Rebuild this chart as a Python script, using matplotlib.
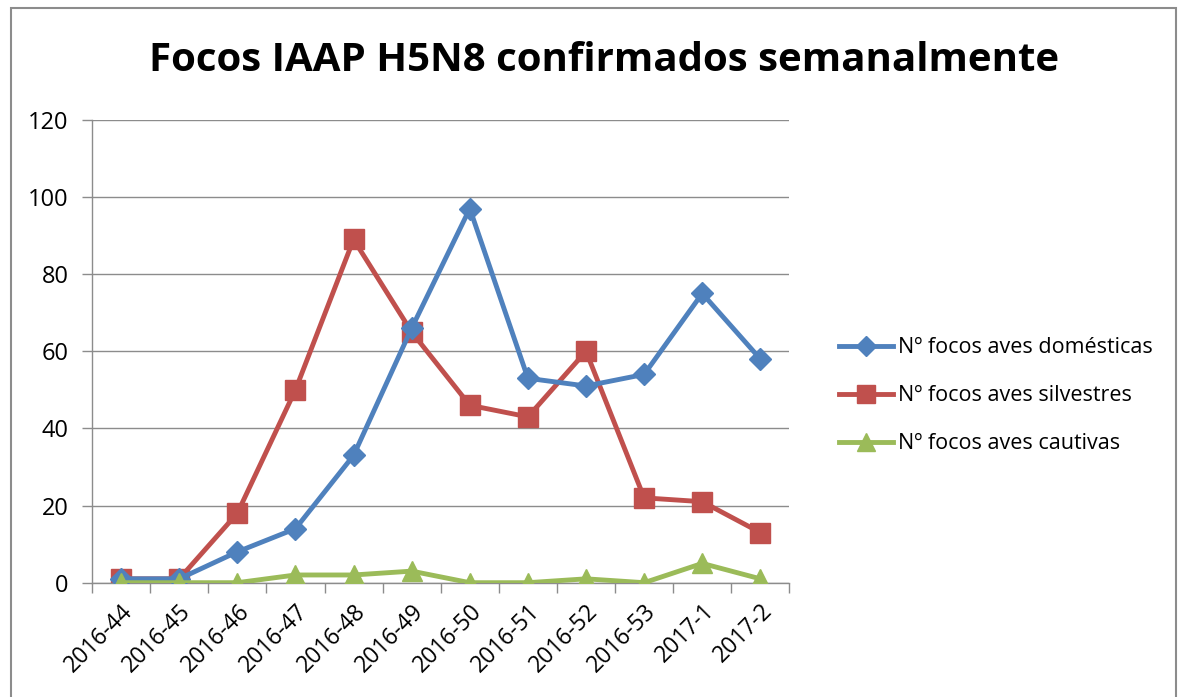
import numpy as np
import matplotlib
matplotlib.use("Agg")
import matplotlib.pyplot as plt
from matplotlib.patches import Rectangle

# Weekly confirmed HPAI H5N8 outbreaks
weeks = ['2016-44', '2016-45', '2016-46', '2016-47', '2016-48', '2016-49',
         '2016-50', '2016-51', '2016-52', '2016-53', '2017-1', '2017-2']
domesticas = [1, 1, 8, 14, 33, 66, 97, 53, 51, 54, 75, 58]
silvestres = [1, 1, 18, 50, 89, 65, 46, 43, 60, 22, 21, 13]
cautivas = [0, 0, 0, 2, 2, 3, 0, 0, 1, 0, 5, 1]

labels = ['Nº focos aves domésticas', 'Nº focos aves silvestres', 'Nº focos aves cautivas']
colors = ['#4F81BD', '#C0504D', '#9BBB59']

plt.rcParams['font.family'] = ['Open Sans', 'DejaVu Sans']

fig = plt.figure(figsize=(11.8, 6.97), dpi=100)
ax = fig.add_axes([0.078, 0.164, 0.591, 0.664])

# grey chart frame like the spreadsheet export
fig.patches.append(Rectangle((0.009, -0.01), 0.988, 0.998, transform=fig.transFigure,
                             fill=False, edgecolor='#8c8c8c', linewidth=1.5))

x = np.arange(len(weeks))
ax.plot(x, domesticas, color=colors[0], lw=3.5, marker='D', ms=11, label=labels[0], zorder=3)
ax.plot(x, silvestres, color=colors[1], lw=3.5, marker='s', ms=15, label=labels[1], zorder=2)
ax.plot(x, cautivas, color=colors[2], lw=3.5, marker='^', ms=15, label=labels[2], zorder=4)

ax.set_xlim(-0.5, len(weeks) - 0.5)
ax.set_ylim(0, 120)
ax.set_yticks(range(0, 121, 20))
ax.yaxis.grid(True, color='#8c8c8c', lw=1)
ax.set_axisbelow(True)

ax.set_xticks(x)
ax.set_xticklabels(weeks, rotation=45, ha='right', rotation_mode='anchor', fontsize=16.5)
ax.set_xticks(np.arange(-0.5, len(weeks)), minor=True)
ax.tick_params(axis='x', which='major', length=0, pad=12)
ax.tick_params(axis='x', which='minor', length=7, color='#8c8c8c', width=1)
ax.tick_params(axis='y', length=7, color='#8c8c8c', width=1, labelsize=17, pad=10)

for s in ['top', 'right']:
    ax.spines[s].set_visible(False)
for s in ['left', 'bottom']:
    ax.spines[s].set_color('#8c8c8c')
    ax.spines[s].set_linewidth(1)

fig.text(0.512, 0.913, 'Focos IAAP H5N8 confirmados semanalmente', ha='center', va='center',
         fontsize=29, fontweight='bold')

fig.legend(loc='center left', bbox_to_anchor=(0.695, 0.432), frameon=False, fontsize=15.5,
           handlelength=2.5, labelspacing=1.25, handletextpad=0.2, markerscale=0.9)

fig.savefig('out.png', dpi=100, facecolor='white')
